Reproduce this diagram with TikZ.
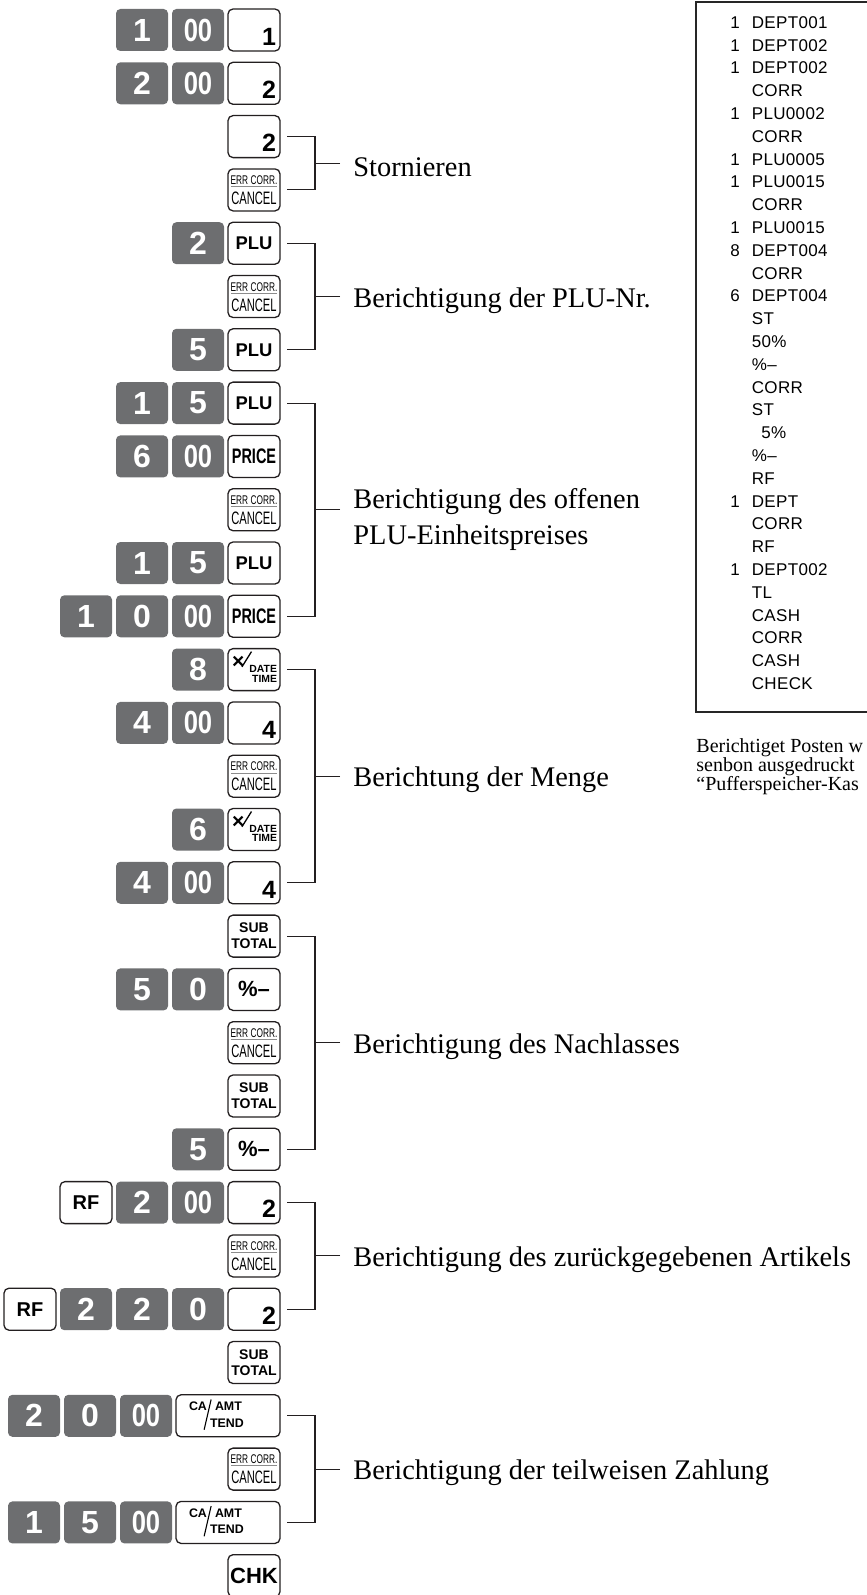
\documentclass[tikz,border=0pt]{standalone}
\usepackage{graphicx}
\usepackage{fontspec}
\setmainfont{Liberation Serif}
\newfontfamily\keyfont{Liberation Sans}
\newfontfamily\slipfont[LetterSpace=2]{Liberation Sans}
\usetikzlibrary{positioning, calc}
\definecolor{keygray}{HTML}{6D6E70}
\definecolor{inkline}{HTML}{231F20}

\newcommand{\putl}[3]{\makebox[0pt][l]{\hspace*{#1}\raisebox{#2}[0pt][0pt]{#3}}}
\newcommand{\putr}[3]{\makebox[0pt][r]{\raisebox{#2}[0pt][0pt]{#3}\hspace*{-#1}}}
\newcommand{\putc}[2]{\makebox[0pt]{\raisebox{#1}[0pt][0pt]{#2}}}
\newcommand{\dnum}[1]{\putr{11pt}{-7.6pt}{\fontsize{12.5}{12.5}\selectfont #1}}
\newcommand{\dzero}{\scalebox{0.8}[1]{00}}
\newcommand{\pricetxt}{\scalebox{0.69}[1]{\fontsize{10.5}{10.5}\selectfont PRICE}}
\newcommand{\errtxt}{\putc{2.65pt}{\scalebox{0.66}[1]{\fontsize{6.3}{6.3}\selectfont\mdseries ERR CORR.}}\putc{1.5pt}{\textcolor{black!45}{\rule{23pt}{0.35pt}}}\putc{-7.35pt}{\scalebox{0.62}[1]{\fontsize{9}{9}\selectfont\mdseries CANCEL}}}
\newcommand{\xdtxt}{\putl{-11pt}{0.6pt}{\fontsize{10.5}{10.5}\selectfont ×}\putl{-6.3pt}{1.2pt}{\rotatebox{58}{\rule{9pt}{0.65pt}}}\putr{11.5pt}{-1.6pt}{\fontsize{5.2}{5.2}\selectfont DATE}\putr{11.5pt}{-6.2pt}{\fontsize{5.2}{5.2}\selectfont TIME}}
\newcommand{\catxt}{\putl{-19.5pt}{2.65pt}{CA}\putl{-12.2pt}{-7pt}{\rotatebox{77}{\rule{15.5pt}{0.55pt}}}\putl{-6.5pt}{2.65pt}{AMT}\putl{-9pt}{-5.7pt}{TEND}}
\newcommand{\pcttxt}{{\fontsize{11}{11}\selectfont\%–}}

\begin{document}
\begin{tikzpicture}[
    x=0.5pt, y=-0.5pt,
    numkey/.style={rectangle, fill=keygray, rounded corners=2.2pt, minimum width=26pt, minimum height=21pt, inner sep=0pt, outer sep=0pt, text=white, font=\keyfont\bfseries\fontsize{16}{16}\selectfont},
    fnkey/.style={rectangle, draw=inkline, fill=white, line width=0.65pt, rounded corners=2.5pt, minimum width=26pt, minimum height=21pt, inner sep=0pt, outer sep=0pt, font=\keyfont\bfseries\fontsize{9.2}{9.2}\selectfont},
    widekey/.style={fnkey, minimum width=52pt, font=\keyfont\bfseries\fontsize{6.2}{6.2}\selectfont},
    stkey/.style={fnkey, align=center, font=\keyfont\bfseries\fontsize{7}{8}\selectfont},
    note/.style={inner sep=0pt, anchor=west, align=left, yshift=-2pt, font=\fontsize{14.2}{18}\selectfont},
    bracket/.style={line width=0.55pt, inkline},
    slip/.style={inner sep=0pt, anchor=north west, font=\slipfont\fontsize{8.5}{11.4}\selectfont},
    capt/.style={inner sep=0pt, anchor=base west, font=\fontsize{10}{10}\selectfont}
]
\useasboundingbox (0,0) rectangle (867,1595);

\node[fnkey, anchor=east] (k0) at (280,30) {\dnum{1}};
\node[numkey, left=2pt of k0] (k0a) {\dzero};
\node[numkey, left=2pt of k0a] (k0b) {1};
\node[fnkey, anchor=east] (k1) at (280,83.3) {\dnum{2}};
\node[numkey, left=2pt of k1] (k1a) {\dzero};
\node[numkey, left=2pt of k1a] (k1b) {2};
\node[fnkey, anchor=east] (k2) at (280,136.6) {\dnum{2}};
\node[fnkey, anchor=east] (k3) at (280,189.9) {\errtxt};

\node[fnkey, anchor=east] (k4) at (280,243.2) {PLU};
\node[numkey, left=2pt of k4] (k4a) {2};
\node[fnkey, anchor=east] (k5) at (280,296.5) {\errtxt};
\node[fnkey, anchor=east] (k6) at (280,349.8) {PLU};
\node[numkey, left=2pt of k6] (k6a) {5};

\node[fnkey, anchor=east] (k7) at (280,403.1) {PLU};
\node[numkey, left=2pt of k7] (k7a) {5};
\node[numkey, left=2pt of k7a] (k7b) {1};
\node[fnkey, anchor=east] (k8) at (280,456.4) {\pricetxt};
\node[numkey, left=2pt of k8] (k8a) {\dzero};
\node[numkey, left=2pt of k8a] (k8b) {6};
\node[fnkey, anchor=east] (k9) at (280,509.7) {\errtxt};
\node[fnkey, anchor=east] (k10) at (280,563) {PLU};
\node[numkey, left=2pt of k10] (k10a) {5};
\node[numkey, left=2pt of k10a] (k10b) {1};
\node[fnkey, anchor=east] (k11) at (280,616.3) {\pricetxt};
\node[numkey, left=2pt of k11] (k11a) {\dzero};
\node[numkey, left=2pt of k11a] (k11b) {0};
\node[numkey, left=2pt of k11b] (k11c) {1};

\node[fnkey, anchor=east] (k12) at (280,669.6) {\xdtxt};
\node[numkey, left=2pt of k12] (k12a) {8};
\node[fnkey, anchor=east] (k13) at (280,722.9) {\dnum{4}};
\node[numkey, left=2pt of k13] (k13a) {\dzero};
\node[numkey, left=2pt of k13a] (k13b) {4};
\node[fnkey, anchor=east] (k14) at (280,776.2) {\errtxt};
\node[fnkey, anchor=east] (k15) at (280,829.5) {\xdtxt};
\node[numkey, left=2pt of k15] (k15a) {6};
\node[fnkey, anchor=east] (k16) at (280,882.8) {\dnum{4}};
\node[numkey, left=2pt of k16] (k16a) {\dzero};
\node[numkey, left=2pt of k16a] (k16b) {4};

\node[stkey, anchor=east] (k17) at (280,936.1) {SUB\\TOTAL};
\node[fnkey, anchor=east] (k18) at (280,989.4) {\pcttxt};
\node[numkey, left=2pt of k18] (k18a) {0};
\node[numkey, left=2pt of k18a] (k18b) {5};
\node[fnkey, anchor=east] (k19) at (280,1042.7) {\errtxt};
\node[stkey, anchor=east] (k20) at (280,1096) {SUB\\TOTAL};
\node[fnkey, anchor=east] (k21) at (280,1149.3) {\pcttxt};
\node[numkey, left=2pt of k21] (k21a) {5};

\node[fnkey, anchor=east] (k22) at (280,1202.6) {\dnum{2}};
\node[numkey, left=2pt of k22] (k22a) {\dzero};
\node[numkey, left=2pt of k22a] (k22b) {2};
\node[fnkey, left=2pt of k22b, font=\keyfont\bfseries\fontsize{10}{10}\selectfont] (k22c) {RF};
\node[fnkey, anchor=east] (k23) at (280,1255.9) {\errtxt};
\node[fnkey, anchor=east] (k24) at (280,1309.2) {\dnum{2}};
\node[numkey, left=2pt of k24] (k24a) {0};
\node[numkey, left=2pt of k24a] (k24b) {2};
\node[numkey, left=2pt of k24b] (k24c) {2};
\node[fnkey, left=2pt of k24c, font=\keyfont\bfseries\fontsize{10}{10}\selectfont] (k24d) {RF};
\node[stkey, anchor=east] (k25) at (280,1362.5) {SUB\\TOTAL};

\node[widekey, anchor=east] (k26) at (280,1415.8) {\catxt};
\node[numkey, left=2pt of k26] (k26a) {\dzero};
\node[numkey, left=2pt of k26a] (k26b) {0};
\node[numkey, left=2pt of k26b] (k26c) {2};
\node[fnkey, anchor=east] (k27) at (280,1469.1) {\errtxt};
\node[widekey, anchor=east] (k28) at (280,1522.4) {\catxt};
\node[numkey, left=2pt of k28] (k28a) {\dzero};
\node[numkey, left=2pt of k28a] (k28b) {5};
\node[numkey, left=2pt of k28b] (k28c) {1};
\node[fnkey, anchor=east, font=\keyfont\bfseries\fontsize{11}{11}\selectfont] (k29) at (280,1575.7) {CHK};

\node[note] (storno) at ($(k2.east)!0.5!(k3.east)+(73,0)$) {Stornieren};
\node[note] (plunr) at ($(k4.east)!0.5!(k6.east)+(73,0)$) {Berichtigung der PLU-Nr.};
\node[note] (openplu) at ($(k7.east)!0.5!(k11.east)+(73,6)$) {Berichtigung des offenen\\PLU-Einheitspreises};
\node[note] (qty) at ($(k12.east)!0.5!(k16.east)+(73,0)$) {Berichtung der Menge};
\node[note] (disc) at ($(k17.east)!0.5!(k21.east)+(73,0)$) {Berichtigung des Nachlasses};
\node[note] (refund) at ($(k22.east)!0.5!(k24.east)+(73,0)$) {Berichtigung des zurückgegebenen Artikels};
\node[note] (partpay) at ($(k26.east)!0.5!(k28.east)+(73,0)$) {Berichtigung der teilweisen Zahlung};

\draw[bracket] ([xshift=3.5pt]k2.east) -- ++(14pt,0) |- ([xshift=3.5pt]k3.east);
\draw[bracket] ([xshift=-6.5pt, yshift=2pt]storno.west) -- ++(-12.5pt,0);
\draw[bracket] ([xshift=3.5pt]k4.east) -- ++(14pt,0) |- ([xshift=3.5pt]k6.east);
\draw[bracket] ([xshift=-6.5pt, yshift=2pt]plunr.west) -- ++(-12.5pt,0);
\draw[bracket] ([xshift=3.5pt]k7.east) -- ++(14pt,0) |- ([xshift=3.5pt]k11.east);
\draw[bracket] ([xshift=-6.5pt, yshift=5pt]openplu.west) -- ++(-12.5pt,0);
\draw[bracket] ([xshift=3.5pt]k12.east) -- ++(14pt,0) |- ([xshift=3.5pt]k16.east);
\draw[bracket] ([xshift=-6.5pt, yshift=2pt]qty.west) -- ++(-12.5pt,0);
\draw[bracket] ([xshift=3.5pt]k17.east) -- ++(14pt,0) |- ([xshift=3.5pt]k21.east);
\draw[bracket] ([xshift=-6.5pt, yshift=2pt]disc.west) -- ++(-12.5pt,0);
\draw[bracket] ([xshift=3.5pt]k22.east) -- ++(14pt,0) |- ([xshift=3.5pt]k24.east);
\draw[bracket] ([xshift=-6.5pt, yshift=2pt]refund.west) -- ++(-12.5pt,0);
\draw[bracket] ([xshift=3.5pt]k26.east) -- ++(14pt,0) |- ([xshift=3.5pt]k28.east);
\draw[bracket] ([xshift=-6.5pt, yshift=2pt]partpay.west) -- ++(-12.5pt,0);

\draw[line width=0.7pt, black!85] (696,2) rectangle (900,712);
\node[slip] (slip) at (730,12) {\begin{tabular}{@{}r@{\hspace{6pt}}l@{}}
1 & DEPT001\\ 1 & DEPT002\\ 1 & DEPT002\\ & CORR\\ 1 & PLU0002\\ & CORR\\
1 & PLU0005\\ 1 & PLU0015\\ & CORR\\ 1 & PLU0015\\ 8 & DEPT004\\ & CORR\\
6 & DEPT004\\ & ST\\ & 50\%\\ & \%–\\ & CORR\\ & ST\\ & \hphantom{0}5\%\\
& \%–\\ & RF\\ 1 & DEPT\\ & CORR\\ & RF\\ 1 & DEPT002\\ & TL\\
& CASH\\ & CORR\\ & CASH\\ & CHECK
\end{tabular}};
\node[capt] (cap1) at (696,752) {Berichtiget Posten w};
\node[capt] (cap2) at (696,771) {senbon ausgedruckt};
\node[capt] (cap3) at (696,790) {“Pufferspeicher-Kas};
\end{tikzpicture}
\end{document}
